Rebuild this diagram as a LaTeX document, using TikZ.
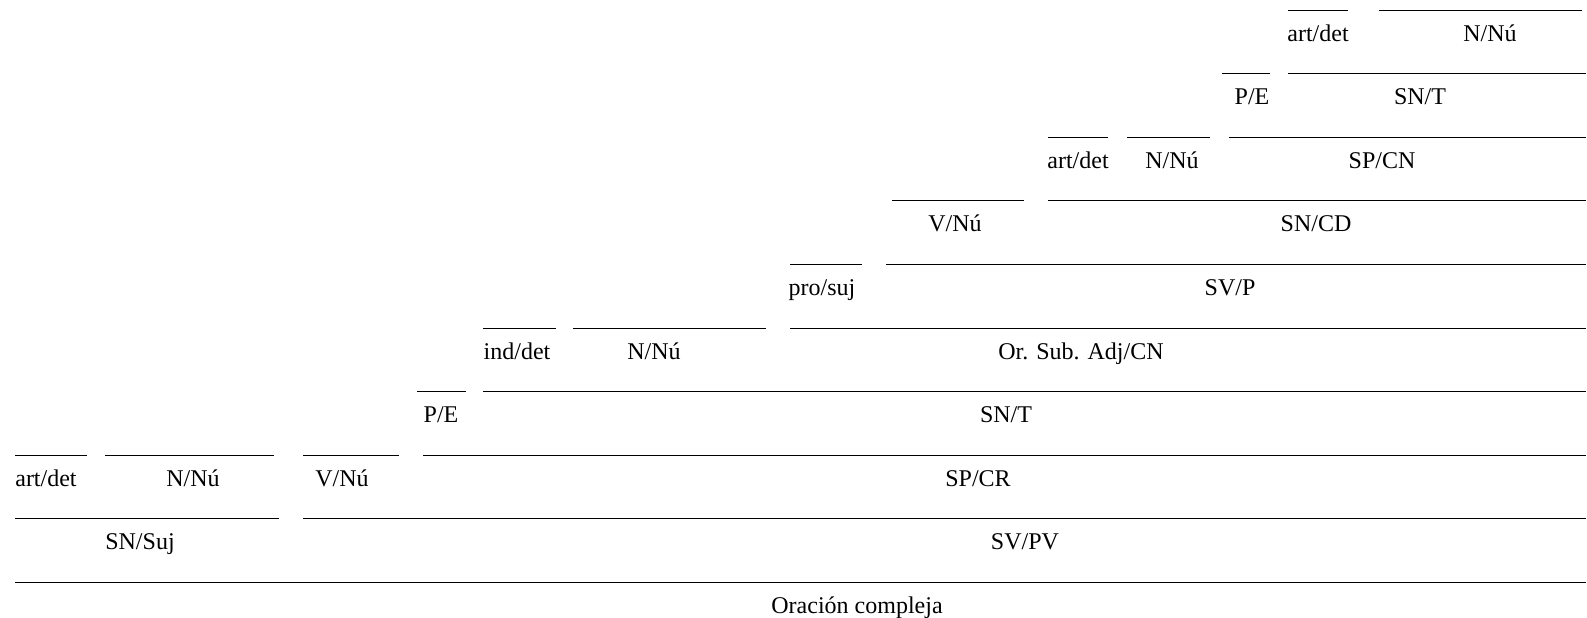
\documentclass[tikz,border=0pt]{standalone}
\usepackage{fontspec}
\setmainfont{Liberation Serif}

\begin{document}
\begin{tikzpicture}[x=0.5pt,y=-0.5pt,font=\fontsize{12}{14}\selectfont]
    \useasboundingbox (0,0) rectangle (1587,617);
    % row / start / end of the line / centre of the label / label
    \foreach \r/\a/\b/\m/\t [count=\n] in {
        1/1288/1348/1318/{art/det}, 1/1379/1582/1490/{N/Nú},
        2/1222/1270/1252/{P/E}, 2/1288/1586/1420/{SN/T},
        3/1048/1108/1078/{art/det}, 3/1127/1210/1172/{N/Nú}, 3/1229/1586/1382/{SP/CN},
        4/892/1024/955/{V/Nú}, 4/1048/1586/1316/{SN/CD},
        5/790/862/822/{pro/suj}, 5/886/1586/1230/{SV/P},
        6/483/556/517/{ind/det}, 6/573/766/654/{N/Nú}, 6/790/1586/1081/{Or. Sub. Adj/CN},
        7/417/466/441/{P/E}, 7/483/1586/1006/{SN/T},
        8/15/87/46/{art/det}, 8/105/274/193/{N/Nú}, 8/303/399/342/{V/Nú}, 8/423/1586/978/{SP/CR},
        9/15/279/140/{SN/Suj}, 9/303/1586/1025/{SV/PV},
        10/15/1586/857/{Oración compleja}}
    {
          \pgfmathsetmacro{\y}{10+(\r-1)*63.6} % height of the line
          % the line of the unit
          \draw[line width=0.5pt] (\a,\y) coordinate (s\n) -- (\b,\y) coordinate (e\n);
          % its function below
          \node[anchor=base] (w\n) at (\m,\y+31) {\t};
    };
\end{tikzpicture}
\end{document}
